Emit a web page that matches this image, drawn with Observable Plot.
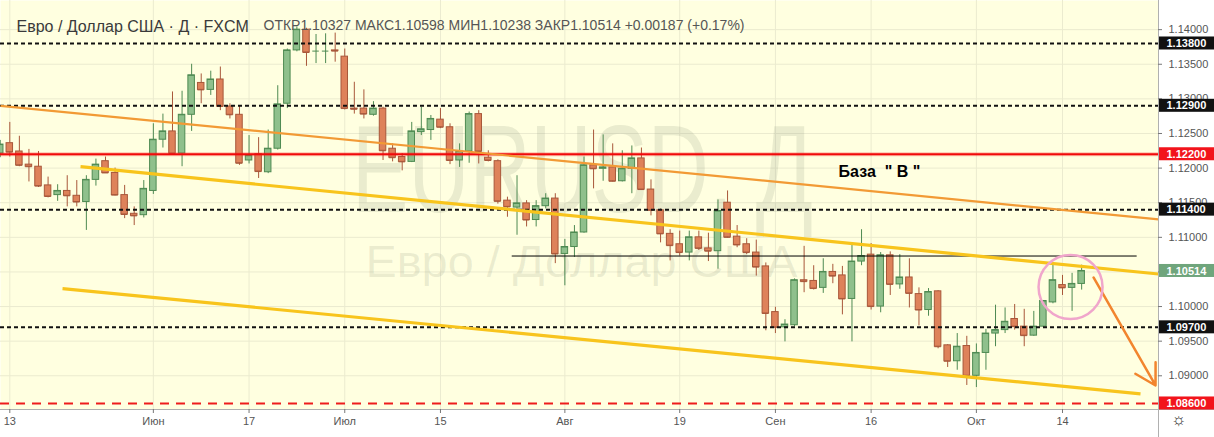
<!DOCTYPE html>
<html><head><meta charset="utf-8">
<script src="https://cdn.jsdelivr.net/npm/d3@7"></script>
<script src="https://cdn.jsdelivr.net/npm/@observablehq/plot@0.6"></script>
<style>
html,body{margin:0;padding:0;background:#fff;}
#chart svg{display:block;}
</style></head><body><div id="chart"></div>
<script>
// ---- Data: EUR/USD daily (FXCM), 2019-05-10 .. 2019-10-16 ----
const firstDay = "2019-05-10", lastDay = "2019-10-16";
const opens = [1.1221,
 1.1236,1.1224,1.1205,1.1202,1.1175,1.1161,1.1167,1.1160,1.1151,1.1183,
 1.1210,1.1193,1.1161,1.1134,1.1132,1.1167,1.1241,1.1253,1.1221,1.1277,
 1.1323,1.1313,1.1328,1.1289,1.1277,1.1211,1.1220,1.1194,1.1228,1.1293,
 1.1370,1.1400,1.1369,1.1369,1.1370,1.1361,1.1286,1.1286,1.1277,1.1286,
 1.1228,1.1216,1.1209,1.1252,1.1255,1.1270,1.1259,1.1211,1.1224,1.1278,
 1.1215,1.1210,1.1153,1.1143,1.1149,1.1125,1.1145,1.1156,1.1076,1.1086,
 1.1107,1.1204,1.1199,1.1201,1.1181,1.1199,1.1214,1.1169,1.1139,1.1105,
 1.1090,1.1078,1.1100,1.1084,1.1080,1.1150,1.1101,1.1090,1.1078,1.1058,
 1.0992,1.0970,1.0973,1.1038,1.1037,1.1027,1.1050,1.1045,1.1011,1.1065,
 1.1075,1.1000,1.1074,1.1032,1.1042,1.1018,1.0995,1.1022,1.0944,1.0921,
 1.0943,1.0900,1.0933,1.0961,1.0966,1.0982,1.0971,1.0958,1.0971,1.1006,
 1.1031,1.1027,1.10327];
const highs = [1.1240,
 1.1266,1.1246,1.1227,1.1224,1.1187,1.1176,1.1189,1.1182,1.1189,1.1213,
 1.1216,1.1200,1.1175,1.1144,1.1182,1.1264,1.1278,1.1310,1.1311,1.1350,
 1.1336,1.1340,1.1346,1.1293,1.1290,1.1247,1.1244,1.1255,1.1319,1.1372,
 1.1404,1.1402,1.1393,1.1394,1.1395,1.1372,1.1324,1.1313,1.1296,1.1288,
 1.1235,1.1221,1.1266,1.1288,1.1276,1.1286,1.1264,1.1235,1.1281,1.1283,
 1.1225,1.1212,1.1158,1.1189,1.1153,1.1153,1.1163,1.1163,1.1097,1.1117,
 1.1216,1.1255,1.1248,1.1235,1.1225,1.1232,1.1229,1.1183,1.1141,1.1111,
 1.1109,1.1109,1.1109,1.1106,1.1154,1.1167,1.1117,1.1098,1.1096,1.1063,
 1.0999,1.0981,1.1040,1.1087,1.1059,1.1069,1.1061,1.1058,1.1091,1.1111,
 1.1091,1.1078,1.1079,1.1075,1.1069,1.1027,1.1026,1.1023,1.0945,1.0961,
 1.0957,1.0946,1.0967,1.1002,1.0998,1.1003,1.0996,1.0993,1.1008,1.1062,
 1.1045,1.1048,1.10598];
const lows = [1.1215,
 1.1216,1.1202,1.1180,1.1172,1.1157,1.1152,1.1144,1.1144,1.1110,1.1174,
 1.1193,1.1160,1.1127,1.1117,1.1128,1.1162,1.1229,1.1220,1.1202,1.1253,
 1.1293,1.1305,1.1283,1.1271,1.1204,1.1206,1.1185,1.1192,1.1226,1.1286,
 1.1368,1.1347,1.1351,1.1351,1.1353,1.1284,1.1278,1.1271,1.1275,1.1211,
 1.1209,1.1196,1.1208,1.1247,1.1240,1.1257,1.1205,1.1201,1.1207,1.1206,
 1.1209,1.1148,1.1129,1.1103,1.1115,1.1115,1.1141,1.1062,1.1030,1.1071,
 1.1106,1.1170,1.1181,1.1180,1.1180,1.1163,1.1168,1.1131,1.1092,1.1066,
 1.1073,1.1066,1.1081,1.1065,1.1054,1.1099,1.1085,1.1075,1.1044,1.0965,
 1.0961,1.0949,1.0971,1.1020,1.1024,1.1019,1.1033,1.0988,1.0949,1.1059,
 1.0995,1.0991,1.1016,1.1025,1.0998,1.0972,1.0986,1.0939,1.0912,1.0908,
 1.0886,1.0883,1.0908,1.0942,1.0961,1.0966,1.0942,1.0957,1.0970,1.1004,
 1.1016,1.0993,1.10238];
const closes = [1.1234,
 1.1223,1.1204,1.1202,1.1174,1.1159,1.1167,1.1160,1.1151,1.1183,1.1205,
 1.1193,1.1161,1.1133,1.1131,1.1170,1.1241,1.1253,1.1221,1.1277,1.1334,
 1.1313,1.1328,1.1289,1.1277,1.1207,1.1218,1.1195,1.1228,1.1292,1.1370,
 1.1400,1.1367,1.1369,1.1369,1.1369,1.1286,1.1285,1.1278,1.1286,1.1225,
 1.1215,1.1209,1.1253,1.1256,1.1271,1.1259,1.1211,1.1224,1.1278,1.1224,
 1.1211,1.1152,1.1144,1.1149,1.1125,1.1145,1.1156,1.1076,1.1086,1.1107,
 1.1204,1.1199,1.1201,1.1181,1.1199,1.1214,1.1169,1.1139,1.1105,1.1088,
 1.1078,1.1100,1.1084,1.1080,1.1138,1.1100,1.1089,1.1078,1.1057,1.0990,
 1.0970,1.0974,1.1038,1.1036,1.1026,1.1050,1.1044,1.1011,1.1065,1.1073,
 1.1000,1.1074,1.1032,1.1042,1.1019,1.0995,1.1021,1.0942,1.0921,1.0942,
 1.0900,1.0933,1.0961,1.0966,1.0978,1.0971,1.0958,1.0971,1.1008,1.1038,
 1.1027,1.10327,1.10514];

// x-axis tick labels
const tickDates  = ["2019-05-13","2019-06-03","2019-06-17","2019-07-01","2019-07-15","2019-08-01","2019-08-19","2019-09-02","2019-09-16","2019-10-01","2019-10-14"];
const tickLabels = ["13","Июн","17","Июл","15","Авг","19","Сен","16","Окт","14"];
// y-axis tick values
const yTicks = [1.090,1.095,1.100,1.105,1.110,1.115,1.120,1.125,1.130,1.135,1.140];

// horizontal levels
const blackLevels = [1.138, 1.129, 1.114, 1.097];
const redLevel = 1.122;
const redDashLevel = 1.086;
const baseLine = {p: 1.1073, fromBar: 53.5, toBar: 118.8};

// price-axis labels
const axisLabelPrices = [1.138, 1.129, 1.122, 1.114, 1.10514, 1.097, 1.086];
const axisLabelKinds  = ["level","level","red","level","last","level","red"];

// drawn trend lines: [startBar, startPrice, endBar, endPrice]
const trendOrange = [0.03, 1.1290, 121.03, 1.1126];
const trendYellowUp = [8.39, 1.1202, 121.03, 1.1047];
const trendYellowLow = [6.51, 1.1026, 119.15, 1.0874];
const arrowSeg = [114.24, 1.1042, 120.72, 1.0886];
const circleAt = [111.84, 1.10283];
const baseText = {text: "База  \" В \"", bar: 87.6, p: 1.11944};

const titleText = "Евро / Доллар США · Д · FXCM";
const wmMain = "EURUSD, Д";
const wmSub = "Евро / Доллар США";

// ---- Build ----
const days = d3.utcDays(new Date(firstDay), d3.utcDay.offset(new Date(lastDay), 1))
  .filter(d => d.getUTCDay() !== 0 && d.getUTCDay() !== 6);
const iso = d3.utcFormat("%Y-%m-%d");
const dayIndex = new Map(days.map((d, i) => [iso(d), i]));
const candles = opens.map((o, i) => ({k: i, o, h: highs[i], l: lows[i], c: closes[i]}));
const xTicks = tickDates.map((d, i) => ({k: dayIndex.get(d), label: tickLabels[i]}));
const axisLabels = axisLabelPrices.map((p, i) => ({p, kind: axisLabelKinds[i]}));

const W = 1214, H = 437;
const M = {left: 0, right: 56, top: 0, bottom: 28};
const xView = [0.028, 121.03];
const yView = [1.08513, 1.14421];
const pxX = (xView[1] - xView[0]) / (W - M.left - M.right);
const pxY = (yView[1] - yView[0]) / (H - M.top - M.bottom);

const UP_FILL = "#8fc08c", UP_STROKE = "#4e8a52";
const DN_FILL = "#de825a", DN_STROKE = "#a8573a";
const up = d => d.c >= d.o;
const bw = 0.34;

const last = candles[candles.length - 1], prev = candles[candles.length - 2];
const chg = last.c - prev.c;
const sgn = v => (v >= 0 ? "+" : "");
const ohlcText = `ОТКР${last.o.toFixed(5)} МАКС${last.h.toFixed(5)} МИН${last.l.toFixed(5)} ЗАКР${last.c.toFixed(5)} ${sgn(chg)}${chg.toFixed(5)} (${sgn(chg)}${(chg / prev.c * 100).toFixed(2)}%)`;

const labelFill = k => k === "red" ? "#f2141b" : k === "last" ? "#6fa57c" : "#111111";
const seg = a => ({x1: a[0], y1: a[1], x2: a[2], y2: a[3]});

const chart = Plot.plot({
  width: W, height: H,
  marginLeft: M.left, marginRight: M.right, marginTop: M.top, marginBottom: M.bottom,
  style: {background: "#ffffff", fontFamily: "'Liberation Sans', Arial, sans-serif", overflow: "visible"},
  x: {type: "linear", domain: xView, axis: null},
  y: {type: "linear", domain: yView, axis: null},
  color: {type: "identity"},
  marks: [
    Plot.frame({fill: "#ffffe0", stroke: "none"}),
    // grid
    Plot.ruleY(yTicks, {stroke: "#ebebcf", strokeWidth: 1}),
    Plot.ruleX(xTicks, {x: "k", stroke: "#ebebcf", strokeWidth: 1}),
    // watermark
    Plot.text([wmMain], {x: 60.85, y: 1.11944, text: d => d, fontSize: 125, fill: "#7f8a70", fillOpacity: 0.16}),
    Plot.text([wmSub], {x: 60.74, y: 1.10628, text: d => d, fontSize: 44, fill: "#7f8a70", fillOpacity: 0.16}),
    // candles
    Plot.ruleX(candles, {x: "k", y1: "l", y2: "h", stroke: d => up(d) ? UP_STROKE : DN_STROKE, strokeWidth: 1}),
    Plot.rect(candles, {x1: d => d.k - bw, x2: d => d.k + bw, y1: "o", y2: "c",
      fill: d => up(d) ? UP_FILL : DN_FILL, stroke: d => up(d) ? UP_STROKE : DN_STROKE, strokeWidth: 1}),
    Plot.ruleY(candles, {y: "c", x1: d => d.k - bw, x2: d => d.k + bw, stroke: d => up(d) ? UP_STROKE : DN_STROKE, strokeWidth: 1}),
    // levels
    Plot.ruleY([redLevel], {stroke: "#ff3030", strokeOpacity: 0.3, strokeWidth: 4}),
    Plot.ruleY([redLevel], {stroke: "#f00a0a", strokeWidth: 2}),
    Plot.ruleY([redDashLevel], {stroke: "#ee1c1c", strokeWidth: 2, strokeDasharray: "9,7"}),
    Plot.ruleY(blackLevels, {stroke: "#111", strokeWidth: 2, strokeDasharray: "4,3"}),
    Plot.ruleY([baseLine], {y: "p", x1: "fromBar", x2: "toBar", stroke: "#000", strokeWidth: 1}),
    // trend lines
    Plot.link([seg(trendOrange)], {x1: "x1", y1: "y1", x2: "x2", y2: "y2", stroke: "#f29a35", strokeWidth: 2.2}),
    Plot.link([seg(trendYellowUp), seg(trendYellowLow)], {x1: "x1", y1: "y1", x2: "x2", y2: "y2", stroke: "#f8c41c", strokeWidth: 3.2}),
    Plot.arrow([seg(arrowSeg)], {x1: "x1", y1: "y1", x2: "x2", y2: "y2", stroke: "#f2852e", strokeWidth: 2.5, headLength: 14}),
    Plot.dot([circleAt], {x: d => d[0], y: d => d[1], r: 32, stroke: "#f0a6cb", strokeWidth: 2.5, fill: "none"}),
    Plot.text([baseText], {x: "bar", y: "p", text: "text", textAnchor: "start", fontSize: 16, fontWeight: "bold", fill: "#000"}),
    // right price axis
    Plot.ruleX([xView[1]], {y1: yView[1], y2: yView[0] - 28 * pxY, stroke: "#b0b0b0"}),
    Plot.ruleY([yView[0]], {x1: xView[0], x2: xView[1] + 56 * pxX, stroke: "#b0b0b0"}),
    Plot.ruleY(yTicks, {x1: xView[1], x2: xView[1] + 4 * pxX, stroke: "#777"}),
    Plot.text(yTicks, {y: d => d, frameAnchor: "right", dx: 10, textAnchor: "start", text: d => d.toFixed(5), fill: "#555", fontSize: 11}),
    Plot.rect(axisLabels, {x1: xView[1] + 1 * pxX, x2: xView[1] + 56 * pxX, y1: d => d.p - 6.5 * pxY, y2: d => d.p + 6.5 * pxY, fill: d => labelFill(d.kind)}),
    Plot.text(axisLabels, {y: "p", frameAnchor: "right", dx: 8, textAnchor: "start", text: d => d.p.toFixed(5), fill: "#fff", fontSize: 11, fontWeight: "bold"}),
    // bottom time axis
    Plot.ruleX(xTicks, {x: "k", y1: yView[0], y2: yView[0] - 4 * pxY, stroke: "#777"}),
    Plot.text(xTicks, {x: "k", frameAnchor: "bottom", dy: 15, text: "label", fill: "#555", fontSize: 11}),
    Plot.text(["☼"], {frameAnchor: "bottom-right", dx: 28, dy: 15, text: d => d, fontSize: 17, fill: "#333"}),
    // header
    Plot.text([titleText], {frameAnchor: "top-left", dx: 16, dy: 20, text: d => d, textAnchor: "start", fontSize: 16, fill: "#3a3a3a"}),
    Plot.text([ohlcText], {frameAnchor: "top-left", dx: 263, dy: 20, text: d => d, textAnchor: "start", fontSize: 14, fill: "#555"})
  ]
});

chart.querySelectorAll("text").forEach(t => {
  if (t.textContent === wmMain) { t.setAttribute("textLength", 461); t.setAttribute("lengthAdjust", "spacingAndGlyphs"); }
  if (t.textContent === wmSub) { t.setAttribute("textLength", 432); t.setAttribute("lengthAdjust", "spacingAndGlyphs"); }
});
document.getElementById("chart").appendChild(chart);
</script>
</body></html>
